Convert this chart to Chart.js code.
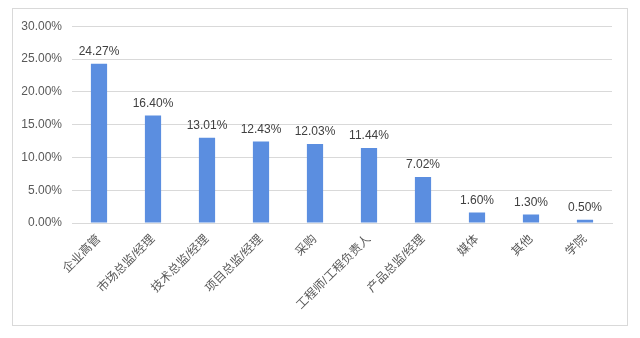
<!DOCTYPE html>
<html>
<head>
<meta charset="utf-8">
<script src="https://cdn.jsdelivr.net/npm/chart.js@4"></script>
<style>
  html, body { margin: 0; padding: 0; background: #ffffff; }
  #frame {
    position: absolute; left: 12px; top: 8px;
    width: 614px; height: 316px;
    border: 1px solid #d9d9d9;
  }
  #chart { display: block; }
</style>
</head>
<body>
<div id="frame"><canvas id="chart" width="614" height="316"></canvas></div>
<script>
const categories = ['企业高管', '市场总监/经理', '技术总监/经理', '项目总监/经理', '采购',
  '工程师/工程负责人', '产品总监/经理', '媒体', '其他', '学院'];
const shares = [24.27, 16.40, 13.01, 12.43, 12.03, 11.44, 7.02, 1.60, 1.30, 0.50];
const yTicks = [0, 5, 10, 15, 20, 25, 30];

const FONT = '"Liberation Sans", Arial, "Noto Sans CJK SC", sans-serif';

// Writes each bar's value just above its top
const valueLabels = {
  id: 'valueLabels',
  afterDatasetsDraw(chart) {
    const ctx = chart.ctx;
    const meta = chart.getDatasetMeta(0);
    ctx.save();
    ctx.font = '12px ' + FONT;
    ctx.fillStyle = '#404040';
    ctx.textAlign = 'center';
    ctx.textBaseline = 'bottom';
    meta.data.forEach((bar, i) => {
      ctx.fillText(shares[i].toFixed(2) + '%', bar.x, bar.y - 6);
    });
    ctx.restore();
  }
};

new Chart(document.getElementById('chart'), {
  type: 'bar',
  data: {
    labels: categories,
    datasets: [{
      data: shares,
      backgroundColor: '#5b8ee0',
      borderWidth: 0,
      categoryPercentage: 1,
      barPercentage: 0.3
    }]
  },
  options: {
    responsive: false,
    animation: false,
    layout: { padding: { top: 14, right: 15, left: 0, bottom: 0 } },
    plugins: { legend: { display: false }, tooltip: { enabled: false } },
    scales: {
      x: {
        grid: { display: false, drawTicks: false },
        border: { color: '#d9d9d9' },
        ticks: {
          color: '#595959',
          font: { size: 12, family: FONT },
          minRotation: 45, maxRotation: 45,
          padding: 9,
          autoSkip: false
        },
        afterFit(scale) { scale.height = 102; }
      },
      y: {
        min: 0, max: 30,
        afterBuildTicks(scale) { scale.ticks = yTicks.map(v => ({ value: v })); },
        grid: { color: '#d9d9d9', drawTicks: false },
        border: { display: false },
        ticks: {
          color: '#595959',
          font: { size: 12, family: FONT },
          padding: 10,
          callback: v => v.toFixed(2) + '%'
        },
        afterFit(scale) { scale.width = 59; }
      }
    }
  },
  plugins: [valueLabels]
});
</script>
</body>
</html>
